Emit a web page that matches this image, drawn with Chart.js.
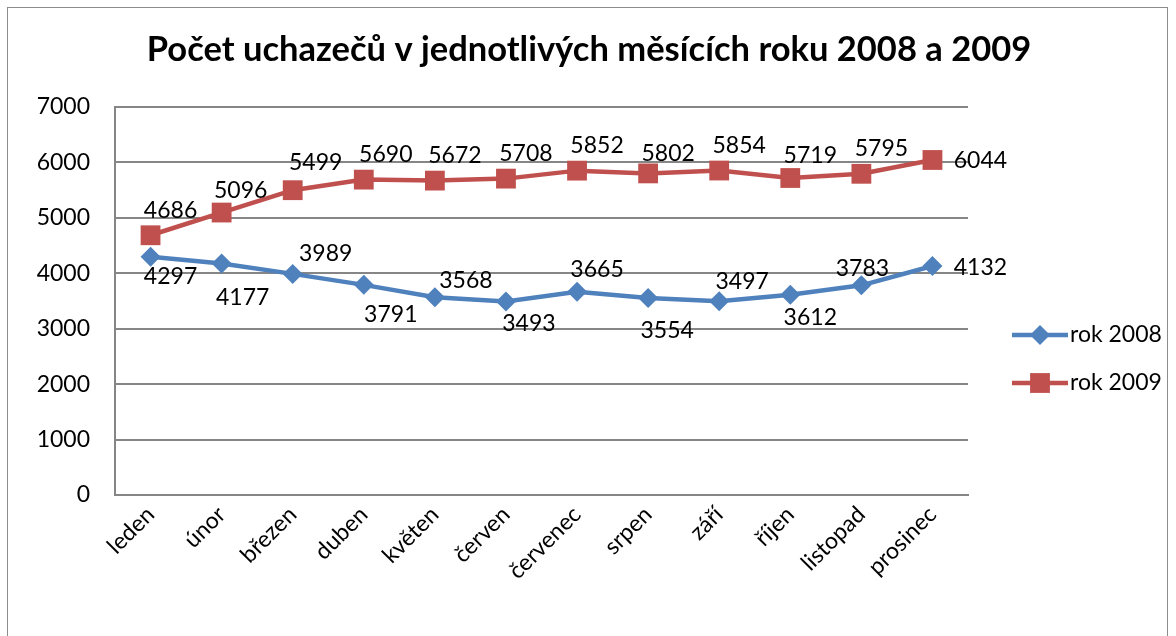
<!DOCTYPE html>
<html>
<head>
<meta charset="utf-8">
<script src="https://cdn.jsdelivr.net/npm/chart.js@4.4.1/dist/chart.umd.min.js"></script>
<style>
  html, body { margin: 0; padding: 0; background: #fff; overflow: hidden; }
  #wrap { position: relative; width: 1176px; height: 636px; }
  #ramecek { position: absolute; left: 7px; top: 7px; width: 1161px; height: 640px; border: 1px solid #8c8c8c; box-sizing: border-box; }
  canvas { position: absolute; left: 0; top: 0; }
</style>
</head>
<body>
<div id="wrap">
  <div id="ramecek"></div>
  <canvas id="graf" width="1176" height="636"></canvas>
</div>
<script>
const mesice = ["leden", "únor", "březen", "duben", "květen", "červen", "červenec", "srpen", "září", "říjen", "listopad", "prosinec"];
const rok2008 = [4297, 4177, 3989, 3791, 3568, 3493, 3665, 3554, 3497, 3612, 3783, 4132];
const rok2009 = [4686, 5096, 5499, 5690, 5672, 5708, 5852, 5802, 5854, 5719, 5795, 6044];
const osaY = [0, 1000, 2000, 3000, 4000, 5000, 6000, 7000];

const PISMO = "Lato";
const MODRA = "#4F81BD";
const CERVENA = "#C0504D";

// posun popisku od bodu (px), aby sedel jako v Excelu
const posun2008 = [[20, 20], [21, 34], [33, -20], [27, 30], [31, -17], [23, 22], [20, -22], [19, 33], [23, -20], [20, 23], [1, -17], [48, 2]];
const posun2009 = [[20, -25], [19, -22], [23, -28], [22, -25], [20, -25], [20, -25], [20, -25], [20, -20], [20, -25], [20, -22], [20, -25], [48, 1]];

const popisky = {
  id: "popisky",
  afterDatasetsDraw(chart) {
    const ctx = chart.ctx;
    ctx.save();
    ctx.font = "23px " + PISMO;
    ctx.fillStyle = "#000";
    ctx.textAlign = "center";
    ctx.textBaseline = "middle";
    chart.data.datasets.forEach((ds, i) => {
      const posuny = i === 0 ? posun2008 : posun2009;
      chart.getDatasetMeta(i).data.forEach((bod, j) => {
        ctx.fillText(String(ds.data[j]), bod.x + posuny[j][0], bod.y + posuny[j][1]);
      });
    });
    // nadpis
    ctx.font = "bold 34.5px " + PISMO;
    ctx.fillText("Počet uchazečů v jednotlivých měsících roku 2008 a 2009", 589, 50);
    // legenda
    const polozky = [
      { text: "rok 2008", barva: MODRA, tvar: "rectRot", r: 10, y: 335 },
      { text: "rok 2009", barva: CERVENA, tvar: "rect", r: 14, y: 383 }
    ];
    polozky.forEach(p => {
      ctx.strokeStyle = p.barva;
      ctx.lineWidth = 4.5;
      ctx.beginPath();
      ctx.moveTo(1012, p.y);
      ctx.lineTo(1068, p.y);
      ctx.stroke();
      ctx.fillStyle = p.barva;
      Chart.helpers.drawPoint(ctx, { pointStyle: p.tvar, radius: p.r, borderWidth: 0 }, 1040, p.y);
      ctx.fillStyle = "#000";
      ctx.font = "23px " + PISMO;
      ctx.textAlign = "left";
      ctx.fillText(p.text, 1070, p.y);
    });
    ctx.restore();
  }
};

const ctx = document.getElementById("graf").getContext("2d");
const graf = new Chart(ctx, {
  type: "line",
  data: {
    labels: mesice,
    datasets: [
      {
        label: "rok 2008",
        data: rok2008,
        borderColor: MODRA,
        backgroundColor: MODRA,
        borderWidth: 4.5,
        pointStyle: "rectRot",
        pointRadius: 10,
        pointBorderWidth: 0,
        tension: 0
      },
      {
        label: "rok 2009",
        data: rok2009,
        borderColor: CERVENA,
        backgroundColor: CERVENA,
        borderWidth: 4.5,
        pointStyle: "rect",
        pointRadius: 14,
        pointBorderWidth: 0,
        tension: 0
      }
    ]
  },
  options: {
    responsive: false,
    animation: false,
    layout: { padding: { left: 10, top: 107, right: 208, bottom: 0 } },
    plugins: {
      legend: { display: false },
      title: { display: false },
      tooltip: { enabled: false }
    },
    scales: {
      x: {
        offset: true,
        grid: { display: false, drawTicks: false },
        border: { display: true, color: "#868686", width: 2 },
        ticks: {
          color: "#000",
          font: { family: PISMO, size: 23 },
          maxRotation: 45,
          minRotation: 45,
          padding: 6,
          autoSkip: false
        },
        afterFit(osa) { osa.height = 141; }
      },
      y: {
        min: 0,
        max: 7000,
        afterBuildTicks(osa) { osa.ticks = osaY.map(v => ({ value: v })); },
        grid: { color: "#868686", lineWidth: 2, drawTicks: false },
        border: { display: true, color: "#868686", width: 2 },
        ticks: {
          color: "#000",
          font: { family: PISMO, size: 23 },
          padding: 25,
          callback: v => String(v)
        },
        afterFit(osa) { osa.width = 105; }
      }
    }
  },
  plugins: [popisky]
});
</script>
</body>
</html>
